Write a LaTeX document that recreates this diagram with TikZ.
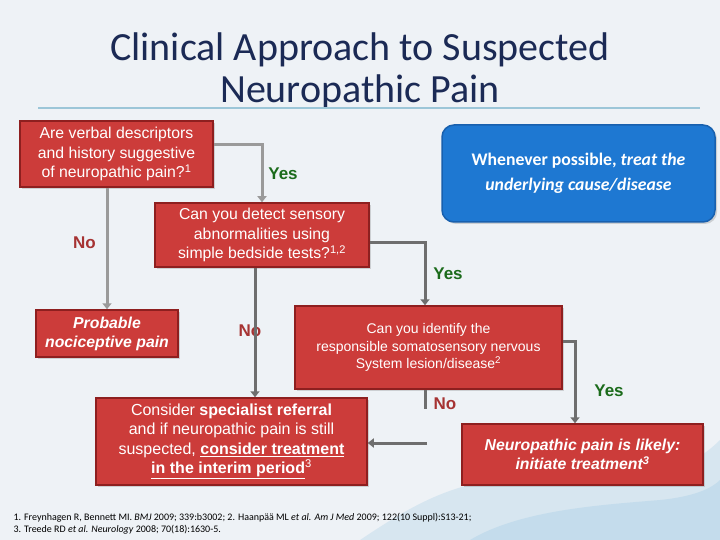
\documentclass[tikz,border=0pt]{standalone}
\usepackage{fontspec}
\setmainfont{Liberation Sans}
\newfontfamily\calfont{Carlito}
\usetikzlibrary{arrows.meta,shadows}
\definecolor{bg}{HTML}{EEF2F6}
\definecolor{boxred}{HTML}{CC3C3A}
\definecolor{boxborder}{HTML}{8E1F1F}
\definecolor{navy}{HTML}{1B2A55}
\definecolor{rulecol}{HTML}{9CC6D8}
\definecolor{bluebox}{HTML}{1E78D2}
\definecolor{blueborder}{HTML}{1860AE}
\definecolor{yesgreen}{HTML}{1B6B1B}
\definecolor{nored}{HTML}{A63333}
\definecolor{lgray}{HTML}{9A9A9A}
\definecolor{dgray}{HTML}{6E6E6E}
\definecolor{splash}{HTML}{6FB2DA}
\begin{document}
\begin{tikzpicture}[x=1pt,y=-1pt,
  redbox/.style={draw=boxborder, line width=1.5pt, fill=boxred, text=white, align=center, inner sep=2pt,
    drop shadow={opacity=0.3, shadow xshift=2pt, shadow yshift=-2pt}},
  bluenode/.style={draw=blueborder, line width=1.5pt, fill=bluebox, text=white, align=center, rounded corners=12pt,
    drop shadow={opacity=0.3, shadow xshift=2pt, shadow yshift=-2pt}},
  conn/.style={line width=3pt, -{Triangle[length=6pt,width=9pt]}},
  plain/.style={line width=3pt},
  yeslab/.style={text=yesgreen, font=\fontsize{17}{19}\selectfont\bfseries},
  nolab/.style={text=nored, font=\fontsize{17}{19}\selectfont\bfseries},
  boxtxt/.style={font=\fontsize{15.8}{19.5}\selectfont}
]
\useasboundingbox (0,0) rectangle (720,540);
\fill[bg] (0,0) rectangle (720,540);
% watercolor splash bottom right
\begin{scope}[opacity=0.18]
\fill[splash] (360,540) .. controls (420,500) and (470,470) .. (560,480) .. controls (640,488) and (690,470) .. (720,440) -- (720,540) -- cycle;
\fill[splash] (470,540) .. controls (520,510) and (600,505) .. (660,500) .. controls (690,497) and (710,490) .. (720,480) -- (720,540) -- cycle;
\end{scope}

% title
\node[text=navy, font=\calfont\fontsize{40}{42}\selectfont, align=center] (title) at (360,71) {Clinical Approach to Suspected\\Neuropathic Pain};
\draw[rulecol, line width=1.5pt] (38,108) -- (700,108);

% boxes
\node[redbox, boxtxt, minimum width=193pt, minimum height=66pt] (b1) at (116.5,154)
  {Are verbal descriptors\\and history suggestive\\of neuropathic pain?\textsuperscript{1}};
\node[redbox, boxtxt, minimum width=214pt, minimum height=64pt] (b2) at (262,235)
  {Can you detect sensory\\abnormalities using\\simple bedside tests?\textsuperscript{1,2}};
\node[bluenode, minimum width=273pt, minimum height=97pt, font=\calfont\fontsize{17.7}{25}\selectfont\bfseries] (blue) at (578.5,173.5)
  {Whenever possible, \textit{treat the}\\\textit{underlying cause/disease}};
\node[redbox, minimum width=142pt, minimum height=47pt, font=\fontsize{15.8}{19}\selectfont\bfseries\itshape] (prob) at (107,333.5)
  {Probable\\nociceptive pain};
\node[redbox, minimum width=267pt, minimum height=83pt, font=\fontsize{14}{17.5}\selectfont] (b3) at (428.5,347.5)
  {Can you identify the\\responsible somatosensory nervous\\System lesion/disease\textsuperscript{2}};
\node[redbox, minimum width=271pt, minimum height=87pt, font=\fontsize{16}{19.3}\selectfont] (b4) at (231.5,441.5)
  {Consider \textbf{specialist referral}\\and if neuropathic pain is still\\suspected, \underline{\textbf{consider treatment}}\\\underline{\textbf{in the interim period}}\textsuperscript{3}};
\node[redbox, minimum width=241pt, minimum height=61pt, font=\fontsize{15.8}{19.5}\selectfont\bfseries\itshape] (b5) at (582.5,454.5)
  {Neuropathic pain is likely:\\initiate treatment\textsuperscript{3}};

% labels
\node[yeslab] (yes1) at (283,174) {Yes};
\node[nolab] (no1) at (84.5,243) {No};
\node[yeslab] (yes2) at (448,274) {Yes};
\node[nolab] (no2) at (250,331) {No};
\node[nolab] (no3) at (445,404) {No};
\node[yeslab] (yes3) at (609,391) {Yes};

% connectors
\draw[conn, lgray] ([yshift=9pt]b1.east) -| (b2.north);
\draw[conn, lgray] (b1.south -| prob.north) -- (prob.north);
\draw[conn, dgray] ([yshift=-7pt]b2.east) -| ([xshift=-3.5pt]b3.north);
\draw[conn, dgray] ([xshift=-7pt]b2.south) -- ([xshift=-7pt]b2.south |- b4.north);
\draw[plain, dgray] ([xshift=-3.5pt]b3.south) -- ++(0,19);
\coordinate (c3) at (427,443);
\draw[conn, dgray] (c3) -- (c3 -| b4.east);
\draw[conn, dgray] ([yshift=6.5pt]b3.east) -| ([xshift=-7.5pt]b5.north);

% footnotes
\node[anchor=west, font=\calfont\fontsize{10}{12}\selectfont, align=left, text=black] (refs) at (10,524)
  {1. Freynhagen R, Bennett MI. \textit{BMJ} 2009; 339:b3002; 2. Haanpää ML \textit{et al. Am J Med} 2009; 122(10 Suppl):S13-21;\\
   3. Treede RD \textit{et al. Neurology} 2008; 70(18):1630-5.};
\end{tikzpicture}
\end{document}
